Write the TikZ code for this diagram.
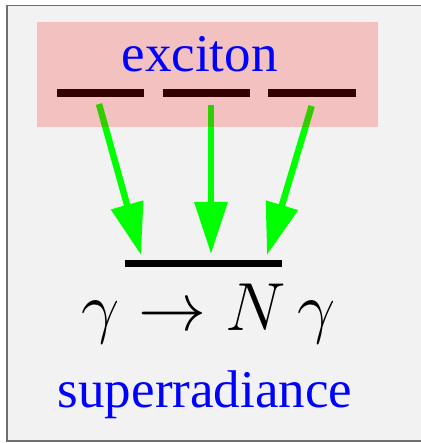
\RequirePackage{fix-cm}
\documentclass[tikz,border=0pt]{standalone}
\usepackage{fontspec}
\setmainfont{Liberation Serif}
\usetikzlibrary{positioning,arrows.meta,calc}
\definecolor{panelgray}{RGB}{242, 242, 242}
\definecolor{framegray}{RGB}{110, 110, 110}
\definecolor{photongreen}{RGB}{0, 255, 0}

\begin{document}
\begin{tikzpicture}[x=1pt, y=-1pt,
    level/.style={line width=8pt, black},
    photon/.style={line width=6.5pt, photongreen, -{Triangle[length=52pt, width=32pt]}},
    label/.style={blue, inner sep=0pt, anchor=base, font=\fontsize{53}{60}\selectfont}]
  \useasboundingbox (0, 0) rectangle (420, 443);
  % Panel
  \draw[line width=1.6pt, framegray, fill=panelgray] (7, 5.5) rectangle (480, 441);
  % Ground level
  \draw[level, line width=7pt] (125, 263.7) -- (281.7, 263.7);
  \coordinate (gndA) at (141, 255);
  \coordinate (gndB) at (211, 254);
  \coordinate (gndC) at (267, 255);
  % Exciton levels
  \draw[level] (57, 92.7) -- (144, 92.7);
  \draw[level] (163, 92.7) -- (250, 92.7);
  \draw[level] (268, 92.7) -- (356, 92.7);
  \coordinate (excA) at (99, 104);
  \coordinate (excB) at (211, 105.5);
  \coordinate (excC) at (311.7, 106);
  % Decay arrows
  \draw[photon] (excA) -- (gndA);
  \draw[photon] (excB) -- (gndB);
  \draw[photon] (excC) -- (gndC);
  % Exciton band
  \fill[red, opacity=0.2] (37, 22) rectangle (378, 127);
  \node[label] (exciton) at (199.5, 72) {exciton};
  % Labels
  \node[inner sep=0pt, anchor=base] (reaction) at (208.5, 330)
    {\fontsize{68}{80}\selectfont $\gamma \to N\,\gamma$};
  \node[label] (superrad) at (205, 407) {superradiance};
\end{tikzpicture}
\end{document}
